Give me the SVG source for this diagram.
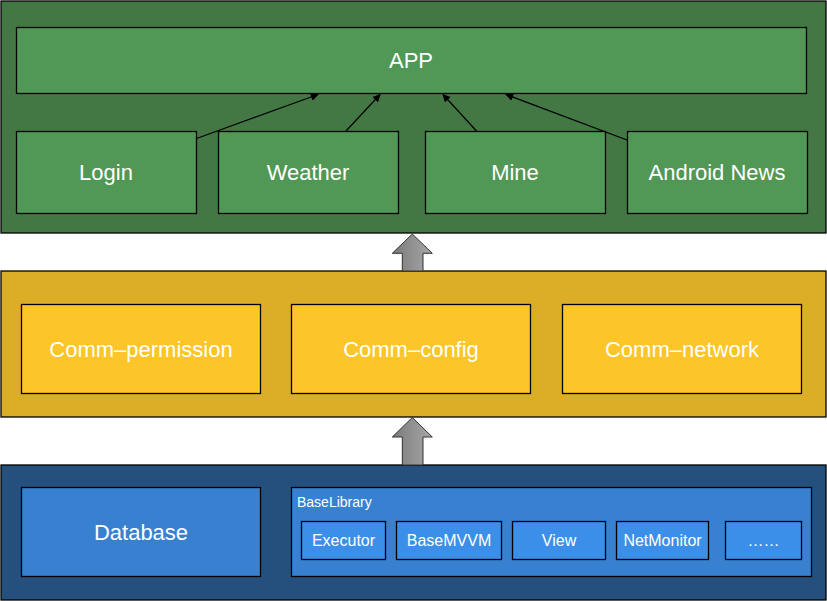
<svg xmlns="http://www.w3.org/2000/svg" width="827" height="601" viewBox="0 0 827 601">
<defs>
<style>
.box{stroke:#000;stroke-width:1.3}
.outerG{fill:#437845}.g{fill:#519755}
.outerY{fill:#DCAE28}.y{fill:#FCC52A}
.outerB{fill:#25507D}.b{fill:#3881D0}.bb{fill:#3B8FE8}
.t{font-family:"Liberation Sans",Arial,sans-serif;fill:#fff;text-anchor:middle}
.t22{font-size:22px}.t16{font-size:16px}.t14{font-size:14px}
.conn{stroke:#000;stroke-width:1.2;fill:none}
.big{fill:url(#gray);stroke:#333;stroke-width:1}
</style>
<linearGradient id="gray" x1="0" y1="0" x2="1" y2="0">
<stop offset="0" stop-color="#7a7a7a"/><stop offset="1" stop-color="#a8a8a8"/>
</linearGradient>
<marker id="ah" viewBox="0 0 10 10" refX="9" refY="5" markerWidth="8" markerHeight="8" markerUnits="userSpaceOnUse" orient="auto">
<path d="M0,0 L10,5 L0,10 z" fill="#000"/>
</marker>
</defs>

<g id="layer-app">
<rect class="box outerG" x="1" y="1" width="825" height="232"/>
</g>
<g id="node-app">
<rect class="box g" x="16.5" y="27.5" width="790" height="66"/>
<text class="t t22" x="411" y="68">APP</text>
</g>
<g id="node-login">
<rect class="box g" x="16.5" y="131.5" width="180" height="82"/>
<text class="t t22" x="106" y="180">Login</text>
</g>
<g id="node-weather">
<rect class="box g" x="218.5" y="131.5" width="180" height="82"/>
<text class="t t22" x="308" y="180">Weather</text>
</g>
<g id="node-mine">
<rect class="box g" x="425.5" y="131.5" width="180" height="82"/>
<text class="t t22" x="515" y="180">Mine</text>
</g>
<g id="node-android-news">
<rect class="box g" x="627.5" y="131.5" width="180" height="82"/>
<text class="t t22" x="717" y="180">Android News</text>
</g>

<g id="layer-comm">
<rect class="box outerY" x="1" y="271" width="825" height="146"/>
</g>
<g id="node-comm-permission">
<rect class="box y" x="21.5" y="304.5" width="239" height="89"/>
<text class="t t22" x="141" y="357">Comm–permission</text>
</g>
<g id="node-comm-config">
<rect class="box y" x="291.5" y="304.5" width="239" height="89"/>
<text class="t t22" x="411" y="357">Comm–config</text>
</g>
<g id="node-comm-network">
<rect class="box y" x="562.5" y="304.5" width="239" height="89"/>
<text class="t t22" x="682" y="357">Comm–network</text>
</g>

<g id="layer-base">
<rect class="box outerB" x="1" y="465" width="825" height="135"/>
</g>
<g id="node-database">
<rect class="box b" x="21.5" y="487.5" width="239" height="89"/>
<text class="t t22" x="141" y="540">Database</text>
</g>
<g id="node-baselibrary">
<rect class="box b" x="291.5" y="487.5" width="520" height="89"/>
<text class="t t14" x="297" y="507" style="text-anchor:start">BaseLibrary</text>
</g>
<g id="node-executor">
<rect class="box bb" x="301.5" y="521.5" width="84" height="38"/>
<text class="t t16" x="343.5" y="546">Executor</text>
</g>
<g id="node-basemvvm">
<rect class="box bb" x="396.5" y="521.5" width="105" height="38"/>
<text class="t t16" x="449" y="546">BaseMVVM</text>
</g>
<g id="node-view">
<rect class="box bb" x="512.5" y="521.5" width="93" height="38"/>
<text class="t t16" x="559" y="546">View</text>
</g>
<g id="node-netmonitor">
<rect class="box bb" x="616.5" y="521.5" width="92" height="38"/>
<text class="t t16" x="662.5" y="546">NetMonitor</text>
</g>
<g id="node-more">
<rect class="box bb" x="725.5" y="521.5" width="76" height="38"/>
<text class="t t16" x="763.5" y="546">……</text>
</g>

<g id="connectors">
<line class="conn" x1="196.5" y1="138.5" x2="318" y2="94.5" marker-end="url(#ah)"/>
<line class="conn" x1="346" y1="131" x2="380" y2="94.5" marker-end="url(#ah)"/>
<line class="conn" x1="476.5" y1="131" x2="443" y2="94.5" marker-end="url(#ah)"/>
<line class="conn" x1="627" y1="140" x2="506" y2="94.5" marker-end="url(#ah)"/>
<path class="big" d="M412.3,234 L432.3,253.3 L423,253.3 L423,271 L402.3,271 L402.3,253.3 L392.3,253.3 Z"/>
<path class="big" d="M412.3,417.5 L432.3,437 L423,437 L423,465 L402.3,465 L402.3,437 L392.3,437 Z"/>
</g>
</svg>
